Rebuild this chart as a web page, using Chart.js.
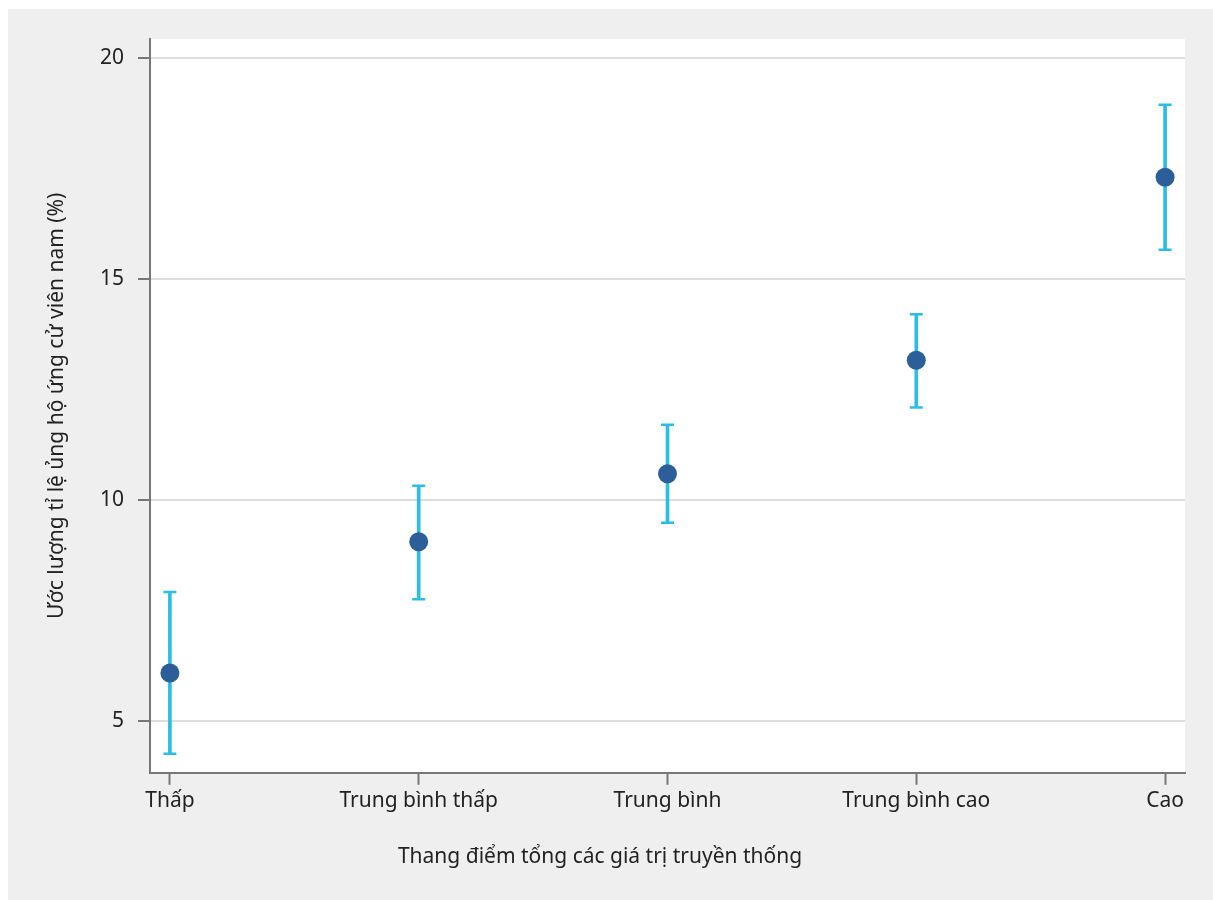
<!DOCTYPE html>
<html>
<head>
<meta charset="utf-8">
<script src="https://cdn.jsdelivr.net/npm/chart.js@4"></script>
<style>
  html, body { margin: 0; padding: 0; background: #fff; }
  #wrap { width: 1213px; height: 900px; position: relative; }
</style>
</head>
<body>
<div id="wrap"><canvas id="ci_chart" width="1213" height="900"></canvas></div>
<script>
// values
const categories = ['Thấp', 'Trung bình thấp', 'Trung bình', 'Trung bình cao', 'Cao'];
const estimates = [6.08, 9.05, 10.59, 13.16, 17.30];
const lower = [4.25, 7.75, 9.48, 12.09, 15.66];
const upper = [7.91, 10.32, 11.70, 14.20, 18.94];
const yTicks = [5, 10, 15, 20];

const xTitle = 'Thang điểm tổng các giá trị truyền thống';
const yTitle = 'Ước lượng tỉ lệ ủng hộ ứng cử viên nam (%)';

const pointColor = '#2c5f9a';
const barColor = '#2bbde6';
const axisColor = '#777777';
const textColor = '#222222';
const fontFamily = '"Noto Sans", "Open Sans", sans-serif';
const fontSize = 21;

let pointData = [];
let rangeData = [];
let capData = [];
categories.forEach(function(name, i) {
    pointData.push({x: i, y: estimates[i]});
    rangeData.push({x: i, y: [lower[i], upper[i]]});
    capData.push({x: i, y: lower[i]});
    capData.push({x: i, y: upper[i]});
});

// gray panel and white plot area
const background = {
    id: 'background',
    beforeDraw(chart) {
        const ctx = chart.ctx;
        const a = chart.chartArea;
        ctx.save();
        ctx.fillStyle = '#ffffff';
        ctx.fillRect(0, 0, chart.width, chart.height);
        ctx.fillStyle = '#efefef';
        ctx.fillRect(8, 9, chart.width - 8, chart.height - 9);
        ctx.fillStyle = '#ffffff';
        ctx.fillRect(a.left, a.top, a.right - a.left, a.bottom - a.top);
        ctx.restore();
    }
};

const ctx = document.getElementById('ci_chart').getContext('2d');
let myChart = new Chart(ctx, {
    data: {
        datasets: [
            {
                type: 'scatter',
                data: pointData,
                backgroundColor: pointColor,
                borderColor: pointColor,
                pointRadius: 9.5,
                borderWidth: 0,
                order: 0
            },
            {
                type: 'scatter',
                data: capData,
                pointStyle: 'line',
                pointRadius: 6.5,
                borderColor: barColor,
                borderWidth: 2.5,
                order: 1
            },
            {
                type: 'bar',
                data: rangeData,
                backgroundColor: barColor,
                borderWidth: 0,
                barThickness: 3,
                order: 2
            }
        ]
    },
    options: {
        responsive: false,
        animation: false,
        layout: {
            padding: {top: 39, right: 28, left: 15, bottom: 0}
        },
        plugins: {
            legend: {display: false},
            tooltip: {enabled: false},
            title: {
                display: true,
                position: 'bottom',
                text: xTitle,
                color: textColor,
                font: {family: fontFamily, size: fontSize, weight: 'normal', lineHeight: 1.2},
                padding: {top: 0, bottom: 30}
            }
        },
        scales: {
            x: {
                type: 'linear',
                offset: false,
                min: -0.08,
                max: 4.08,
                afterBuildTicks(scale) {
                    scale.ticks = categories.map((c, i) => ({value: i}));
                },
                afterFit(scale) {
                    scale.height = 72;
                },
                grid: {
                    offset: false,
                    drawOnChartArea: false,
                    tickLength: 12,
                    tickColor: axisColor,
                    tickWidth: 2
                },
                border: {color: axisColor, width: 2},
                ticks: {
                    autoSkip: false,
                    maxRotation: 0,
                    padding: 4,
                    color: textColor,
                    font: {family: fontFamily, size: fontSize},
                    callback: (v) => categories[v]
                }
            },
            y: {
                type: 'linear',
                min: 3.82,
                max: 20.43,
                afterBuildTicks(scale) {
                    scale.ticks = yTicks.map(v => ({value: v}));
                },
                afterFit(scale) {
                    scale.width = 135;
                },
                grid: {
                    color: '#dddddd',
                    lineWidth: 2,
                    tickLength: 12,
                    tickColor: axisColor,
                    tickWidth: 2
                },
                border: {color: axisColor, width: 2},
                ticks: {
                    padding: 14,
                    color: textColor,
                    font: {family: fontFamily, size: fontSize}
                },
                title: {
                    display: true,
                    text: yTitle,
                    color: textColor,
                    font: {family: fontFamily, size: fontSize, lineHeight: 1.2},
                    padding: {top: 29, bottom: 0}
                }
            }
        }
    },
    plugins: [background]
});
</script>
</body>
</html>
